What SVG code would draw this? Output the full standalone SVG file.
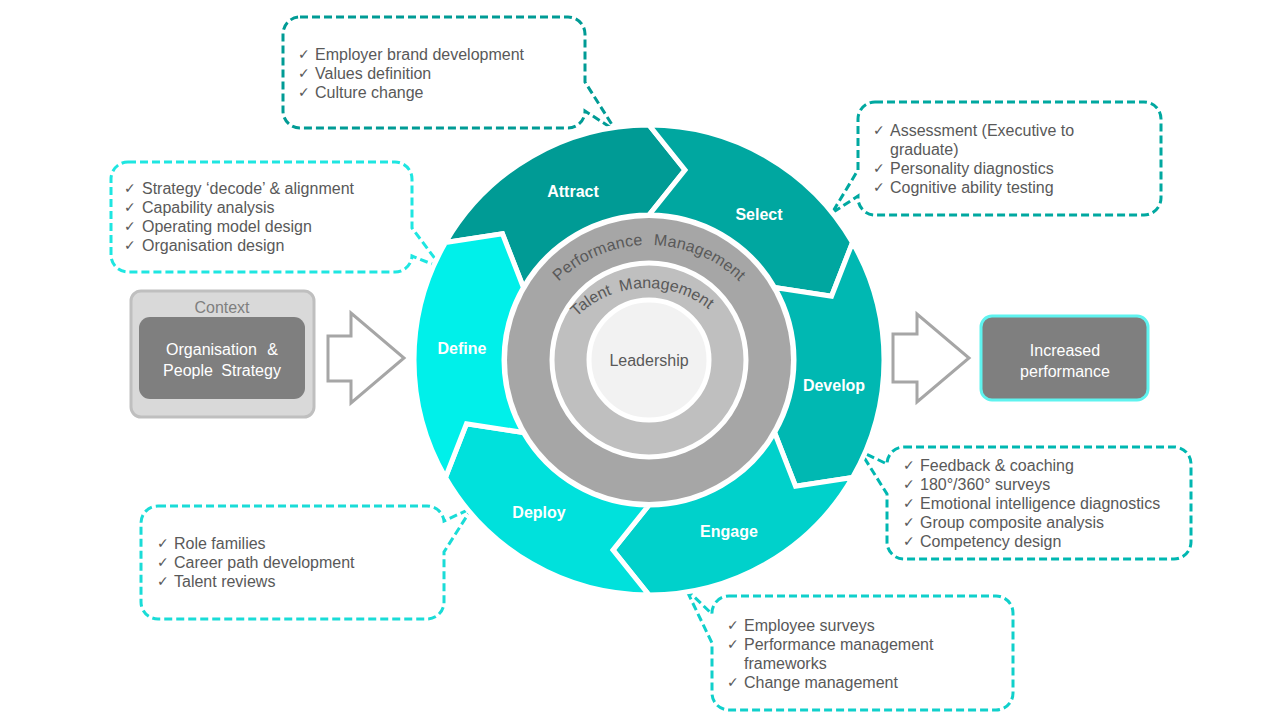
<svg xmlns="http://www.w3.org/2000/svg" width="1280" height="720" viewBox="0 0 1280 720">
<defs>
<style>
.co{fill:#fff;stroke-width:3;stroke-dasharray:8 4}
.t{font-family:"Liberation Sans",Arial,sans-serif;font-size:16px;fill:#595959}
.ck{font-family:"DejaVu Sans",sans-serif;font-size:14px;fill:#595959}
.seg{stroke:#fff;stroke-width:5;stroke-linejoin:miter}
.lbl{font-family:"Liberation Sans",Arial,sans-serif;font-size:16px;font-weight:bold;fill:#fff;text-anchor:middle}
.ring{font-family:"Liberation Sans",Arial,sans-serif;font-size:16px;fill:#595959}
.wt{font-family:"Liberation Sans",Arial,sans-serif;font-size:16px;fill:#fff;text-anchor:middle}
.blk{fill:#fff;stroke:#A6A6A6;stroke-width:3}
</style>
<path id="pmArc" d="M 519,375 A 130 130 0 0 1 779,375"/>
<path id="tmArc" d="M 547,388 A 100 100 0 0 1 747,388"/>
</defs>

<g id="connectors">
<polygon class="blk" points="328,336 351,336 351,313 404,358 351,403 351,381 328,381"/>
<polygon class="blk" points="893,334 917,334 917,314 969,358 917,402 917,382 893,382"/>
</g>

<g id="callout-attract">
<path class="co" stroke="#009B95" d="M 300,17 H 568 A 17 17 0 0 1 585,34 V 82 L 616,131 L 585,111 A 17 17 0 0 1 568,128 H 300 A 17 17 0 0 1 283,111 V 34 A 17 17 0 0 1 300,17 Z"/>
<text class="ck" x="298" y="59">✓</text><text class="t" x="315" y="59.5">Employer brand development</text>
<text class="ck" x="298" y="78">✓</text><text class="t" x="315" y="78.5">Values definition</text>
<text class="ck" x="298" y="97">✓</text><text class="t" x="315" y="97.5">Culture change</text>
</g>

<g id="callout-define">
<path class="co" stroke="#1EE6E1" d="M 128,162 H 395 A 17 17 0 0 1 412,179 V 228 L 442,268 L 412,256 A 17 17 0 0 1 395,272 H 128 A 17 17 0 0 1 111,255 V 179 A 17 17 0 0 1 128,162 Z"/>
<text class="ck" x="124" y="193">✓</text><text class="t" x="142" y="193.5">Strategy ‘decode’ &amp; alignment</text>
<text class="ck" x="124" y="212">✓</text><text class="t" x="142" y="212.5">Capability analysis</text>
<text class="ck" x="124" y="231">✓</text><text class="t" x="142" y="231.5">Operating model design</text>
<text class="ck" x="124" y="250">✓</text><text class="t" x="142" y="250.5">Organisation design</text>
</g>

<g id="callout-select">
<path class="co" stroke="#00A8A0" d="M 875,102 H 1144 A 17 17 0 0 1 1161,119 V 198 A 17 17 0 0 1 1144,215 H 875 A 17 17 0 0 1 858,198 V 196 L 832,213 L 858,170 V 119 A 17 17 0 0 1 875,102 Z"/>
<text class="ck" x="873" y="135">✓</text><text class="t" x="890" y="135.5">Assessment (Executive to</text>
<text class="t" x="890" y="154.5">graduate)</text>
<text class="ck" x="873" y="173">✓</text><text class="t" x="890" y="173.5">Personality diagnostics</text>
<text class="ck" x="873" y="192">✓</text><text class="t" x="890" y="192.5">Cognitive ability testing</text>
</g>

<g id="callout-develop">
<path class="co" stroke="#00B7B1" d="M 904,447 H 1174 A 17 17 0 0 1 1191,464 V 542 A 17 17 0 0 1 1174,559 H 904 A 17 17 0 0 1 887,542 V 494 L 860,451 L 887,464 A 17 17 0 0 1 904,447 Z"/>
<text class="ck" x="903" y="470">✓</text><text class="t" x="920" y="470.5">Feedback &amp; coaching</text>
<text class="ck" x="903" y="489">✓</text><text class="t" x="920" y="489.5">180°/360° surveys</text>
<text class="ck" x="903" y="508">✓</text><text class="t" x="920" y="508.5">Emotional intelligence diagnostics</text>
<text class="ck" x="903" y="527">✓</text><text class="t" x="920" y="527.5">Group composite analysis</text>
<text class="ck" x="903" y="546">✓</text><text class="t" x="920" y="546.5">Competency design</text>
</g>

<g id="callout-deploy">
<path class="co" stroke="#1ADCD7" d="M 158,506 H 427 A 17 17 0 0 1 444,521 L 472,508 L 444,552 V 602 A 17 17 0 0 1 427,619 H 158 A 17 17 0 0 1 141,602 V 523 A 17 17 0 0 1 158,506 Z"/>
<text class="ck" x="157" y="548">✓</text><text class="t" x="174" y="548.5">Role families</text>
<text class="ck" x="157" y="567">✓</text><text class="t" x="174" y="567.5">Career path development</text>
<text class="ck" x="157" y="586">✓</text><text class="t" x="174" y="586.5">Talent reviews</text>
</g>

<g id="callout-engage">
<path class="co" stroke="#10D0CB" d="M 729,596 H 996 A 17 17 0 0 1 1013,613 V 693 A 17 17 0 0 1 996,710 H 729 A 17 17 0 0 1 712,693 V 643 L 686,589 L 712,614 A 17 17 0 0 1 729,596 Z"/>
<text class="ck" x="727" y="630">✓</text><text class="t" x="744" y="630.5">Employee surveys</text>
<text class="ck" x="727" y="649">✓</text><text class="t" x="744" y="649.5">Performance management</text>
<text class="t" x="744" y="668.5">frameworks</text>
<text class="ck" x="727" y="687">✓</text><text class="t" x="744" y="687.5">Change management</text>
</g>

<g id="wheel">
<path id="seg-attract" class="seg" fill="#009B95" d="M 445.48,242.5 A 235 235 0 0 1 649,125 L 685,170 L 649,215 A 145 145 0 0 0 523.43,287.5 L 502.46,233.82 Z"/>
<path id="seg-select" class="seg" fill="#00A7A0" d="M 649,125 A 235 235 0 0 1 852.52,242.5 L 831.54,296.18 L 774.57,287.5 A 145 145 0 0 0 649,215 L 685,170 Z"/>
<path id="seg-develop" class="seg" fill="#00B8B2" d="M 852.52,242.5 A 235 235 0 0 1 852.52,477.5 L 795.54,486.18 L 774.57,432.5 A 145 145 0 0 0 774.57,287.5 L 831.54,296.18 Z"/>
<path id="seg-engage" class="seg" fill="#00D1CB" d="M 852.52,477.5 A 235 235 0 0 1 649,595 L 613,550 L 649,505 A 145 145 0 0 0 774.57,432.5 L 795.54,486.18 Z"/>
<path id="seg-deploy" class="seg" fill="#00E1DC" d="M 649,595 A 235 235 0 0 1 445.48,477.5 L 466.46,423.82 L 523.43,432.5 A 145 145 0 0 0 649,505 L 613,550 Z"/>
<path id="seg-define" class="seg" fill="#00F0EA" d="M 445.48,477.5 A 235 235 0 0 1 445.48,242.5 L 502.46,233.82 L 523.43,287.5 A 145 145 0 0 0 523.43,432.5 L 466.46,423.82 Z"/>
<text class="lbl" x="573" y="197">Attract</text>
<text class="lbl" x="759" y="220">Select</text>
<text class="lbl" x="834" y="390.5">Develop</text>
<text class="lbl" x="729" y="537">Engage</text>
<text class="lbl" x="539" y="518">Deploy</text>
<text class="lbl" x="462" y="354">Define</text>
</g>

<g id="performance-management">
<circle cx="649" cy="360" r="142" fill="#A6A6A6"/>
<text class="ring" word-spacing="6" letter-spacing="0.2"><textPath href="#pmArc" startOffset="50%" text-anchor="middle">Performance Management</textPath></text>
</g>
<g id="talent-management">
<circle cx="649" cy="360" r="97" fill="#BFBFBF" stroke="#fff" stroke-width="5"/>
<text class="ring" word-spacing="4"><textPath href="#tmArc" startOffset="151" text-anchor="middle">Talent Management</textPath></text>
</g>
<g id="leadership">
<circle cx="649" cy="360" r="60" fill="#F2F2F2" stroke="#fff" stroke-width="5"/>
<text class="t" x="649" y="366" text-anchor="middle">Leadership</text>
</g>

<g id="context">
<rect x="131" y="291" width="183" height="126" rx="10" fill="#D9D9D9" stroke="#BFBFBF" stroke-width="3"/>
<text x="222" y="313" text-anchor="middle" style="font-family:'Liberation Sans',Arial,sans-serif;font-size:16px;fill:#7F7F7F">Context</text>
<rect x="139" y="317" width="166" height="82" rx="11" fill="#7F7F7F"/>
<text class="wt" x="222" y="355" word-spacing="6">Organisation &amp;</text>
<text class="wt" x="222" y="376" word-spacing="4">People Strategy</text>
</g>

<g id="increased-performance">
<rect x="981" y="316" width="167" height="84" rx="11" fill="#7F7F7F" stroke="#5FF3EF" stroke-width="3"/>
<text class="wt" x="1065" y="355.5">Increased</text>
<text class="wt" x="1065" y="376.5">performance</text>
</g>
</svg>
